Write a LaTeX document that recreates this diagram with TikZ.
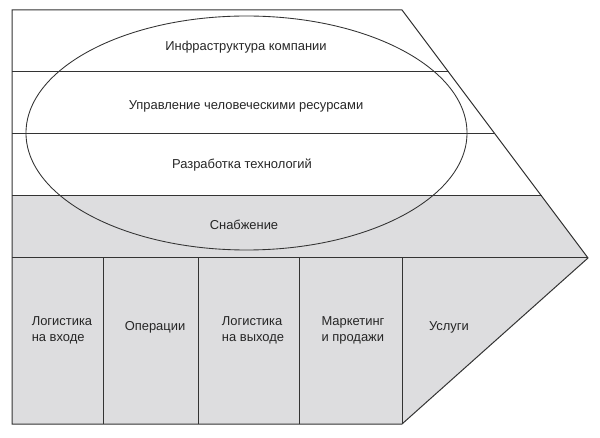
\documentclass[tikz,border=0pt]{standalone}
\usepackage{fontspec}
\setmainfont{Liberation Sans}
\usepackage{tikz}
\usetikzlibrary{shapes}

\definecolor{chainline}{RGB}{51,51,51}
\definecolor{chainfill}{RGB}{221,221,223}

\tikzset{
  chainedge/.style={draw=chainline, line width=0.75pt},
  chainlabel/.style={inner sep=0.75pt, font=\fontsize{9.7}{12}\selectfont, text=black!85, align=left},
}

\begin{document}
\begin{tikzpicture}[x=0.75pt,y=0.75pt,yscale=-1,xscale=1]
\useasboundingbox (0,0) rectangle (600,438);

%Shape: grey lower part
\fill [chainfill] (12,196) -- (541.5,196) -- (588,258) -- (402,424) -- (12,424) -- cycle ;

%Shape: outline of the chain
\draw [chainedge] (12,10) -- (402,10) -- (588,258) -- (402,424) -- (12,424) -- cycle ;

%Straight Lines: support rows
\draw [chainedge] (12,72) -- (448.5,72) ;
\draw [chainedge] (12,134) -- (495,134) ;
\draw [chainedge] (12,196) -- (541.5,196) ;
\draw [chainedge] (12,258) -- (588,258) ;

%Straight Lines: primary columns
\foreach \xcol in {103,198,299,402} {
  \draw [chainedge] (\xcol,258) -- (\xcol,424) ;
}

%Shape: Ellipse
\draw [draw=chainline, line width=0.65pt] (246.5,133) ellipse (220.5 and 117) ;

% Text Node
\node (infra) [chainlabel] at (246,47) {Инфраструктура компании};
% Text Node
\node (hrm) [chainlabel] at (246,106) {Управление человеческими ресурсами};
% Text Node
\node (tech) [chainlabel] at (242,165) {Разработка технологий};
% Text Node
\node (procure) [chainlabel] at (244,225) {Снабжение};
% Text Node
\node (inlog) [chainlabel] at (62,330) {Логистика\\на входе};
% Text Node
\node (ops) [chainlabel] at (155,327) {Операции};
% Text Node
\node (outlog) [chainlabel] at (253,330) {Логистика\\на выходе};
% Text Node
\node (market) [chainlabel] at (353,330) {Маркетинг\\и продажи};
% Text Node
\node (service) [chainlabel] at (449,327) {Услуги};

\end{tikzpicture}
\end{document}
